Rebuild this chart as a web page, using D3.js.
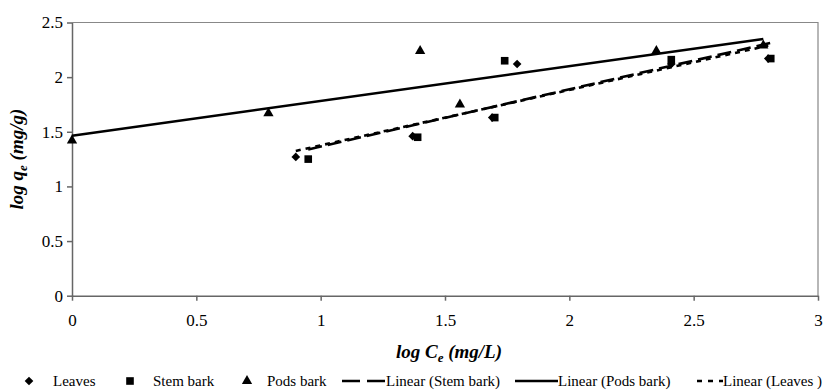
<!DOCTYPE html>
<html>
<head>
<meta charset="utf-8">
<script src="https://cdn.jsdelivr.net/npm/d3@7"></script>
</head>
<body style="margin:0">
<div id="chart"></div>
<script>
const W = 838
const H = 390
const margin = {top: 22.5, right: 20, bottom: 94.3, left: 72}
const FONT = '"Liberation Serif"'

// data (log Ce, log qe)
const leavesX = [0.90, 1.37, 1.69, 1.79, 2.41, 2.80]
const leavesY = [1.27, 1.46, 1.63, 2.12, 2.12, 2.17]
const stemX = [0.95, 1.39, 1.70, 1.74, 2.41, 2.81]
const stemY = [1.25, 1.45, 1.63, 2.15, 2.16, 2.17]
const podsX = [0, 0.79, 1.40, 1.56, 2.35, 2.78]
const podsY = [1.42, 1.67, 2.24, 1.75, 2.24, 2.29]

const xTicks = [0, 0.5, 1, 1.5, 2, 2.5, 3]
const yTicks = [0, 0.5, 1, 1.5, 2, 2.5]

const svg = d3.select("#chart").append("svg")
    .attr("width", W)
    .attr("height", H)

const x = d3.scaleLinear().domain([0, 3]).range([margin.left, W - margin.right])
const y = d3.scaleLinear().domain([0, 2.5]).range([H - margin.bottom, margin.top])

// frame (top & right edges)
svg.append("path")
    .attr("d", `M${x(0)},${y(2.5)}H${x(3)}V${y(0)}`)
    .attr("fill", "none")
    .attr("stroke", "#888")
    .attr("stroke-width", 1.2)

const xAxis = svg.append("g")
    .attr("transform", `translate(0,${y(0)})`)
    .call(d3.axisBottom(x).tickValues(xTicks).tickFormat(d => String(d)).tickSizeInner(5).tickSizeOuter(0))
const yAxis = svg.append("g")
    .attr("transform", `translate(${x(0)},0)`)
    .call(d3.axisLeft(y).tickValues(yTicks).tickFormat(d => String(d)).tickSizeInner(5).tickSizeOuter(0))

xAxis.selectAll(".tick text").attr("dy", "1.3em")
yAxis.selectAll(".tick text").attr("x", -9)
;[xAxis, yAxis].forEach(g => {
  g.select(".domain").attr("stroke", "#666").attr("stroke-width", 1.5)
  g.selectAll(".tick line").attr("stroke", "#666").attr("stroke-width", 1.5)
  g.selectAll(".tick text").attr("fill", "#000")
    .style("font-family", FONT).style("font-size", "17px")
})

// linear trendlines (least squares, like the spreadsheet)
function fit(xs, ys) {
  const mx = d3.mean(xs), my = d3.mean(ys)
  const b = d3.sum(xs, (v, i) => (v - mx) * (ys[i] - my)) / d3.sum(xs, v => (v - mx) ** 2)
  const a = my - b * mx
  const [x0, x1] = d3.extent(xs)
  return [[x0, a + b * x0], [x1, a + b * x1]]
}

const lineGen = d3.line().x(d => x(d[0])).y(d => y(d[1]))

svg.append("path").datum(fit(podsX, podsY))
    .attr("d", lineGen).attr("fill", "none").attr("stroke", "#000").attr("stroke-width", 2.4)
svg.append("path").datum(fit(stemX, stemY))
    .attr("d", lineGen).attr("fill", "none").attr("stroke", "#000").attr("stroke-width", 2.6)
    .attr("stroke-dasharray", "14,6")
svg.append("path").datum(fit(leavesX, leavesY))
    .attr("d", lineGen).attr("fill", "none").attr("stroke", "#000").attr("stroke-width", 2.6)
    .attr("stroke-dasharray", "5,5")

// markers
const sym = {
  diamond: d3.symbol().type(d3.symbolDiamond2).size(48),
  square: d3.symbol().type(d3.symbolSquare).size(58),
  triangle: d3.symbol().type(d3.symbolTriangle).size(46)
}
function drawPts(xs, ys, s) {
  svg.append("g").selectAll("path")
    .data(xs.map((v, i) => [v, ys[i]]))
    .join("path")
    .attr("d", sym[s])
    .attr("transform", d => `translate(${x(d[0])},${y(d[1])})`)
    .attr("fill", "#000")
}
drawPts(podsX, podsY, "triangle")
drawPts(stemX, stemY, "square")
drawPts(leavesX, leavesY, "diamond")

// axis titles
const xt = svg.append("text")
    .attr("x", 449).attr("y", 358)
    .attr("text-anchor", "middle")
    .style("font-family", FONT)
    .style("font-size", "19px").style("font-weight", "bold").style("font-style", "italic")
xt.append("tspan").text("log C")
xt.append("tspan").text("e").attr("dy", 4).style("font-size", "13px")
xt.append("tspan").text(" (mg/L)").attr("dy", -4)

const yt = svg.append("text")
    .attr("transform", `translate(23,${y(1.25)}) rotate(-90)`)
    .attr("text-anchor", "middle")
    .style("font-family", FONT)
    .style("font-size", "19px").style("font-weight", "bold").style("font-style", "italic")
yt.append("tspan").text("log q")
yt.append("tspan").text("e").attr("dy", 4).style("font-size", "13px")
yt.append("tspan").text(" (mg/g)").attr("dy", -4)

// legend
const ly = 381
const leg = svg.append("g")
function legText(tx, s) {
  leg.append("text").attr("x", tx).attr("y", ly + 5)
    .style("font-family", FONT).style("font-size", "15px").text(s)
}
leg.append("path").attr("d", sym.diamond).attr("transform", `translate(29,${ly})`)
legText(53, "Leaves")
leg.append("path").attr("d", sym.square).attr("transform", `translate(130,${ly})`)
legText(153, "Stem bark")
leg.append("path").attr("d", sym.triangle).attr("transform", `translate(247,${ly})`)
legText(267, "Pods bark")
leg.append("line").attr("x1", 342).attr("x2", 386).attr("y1", ly).attr("y2", ly)
    .attr("stroke", "#000").attr("stroke-width", 2.6).attr("stroke-dasharray", "18,7")
legText(386, "Linear (Stem bark)")
leg.append("line").attr("x1", 515).attr("x2", 558).attr("y1", ly).attr("y2", ly)
    .attr("stroke", "#000").attr("stroke-width", 2.4)
legText(558, "Linear (Pods bark)")
leg.append("line").attr("x1", 697).attr("x2", 723).attr("y1", ly).attr("y2", ly)
    .attr("stroke", "#000").attr("stroke-width", 2.6).attr("stroke-dasharray", "5,6")
legText(723, "Linear (Leaves )")
</script>
</body>
</html>
